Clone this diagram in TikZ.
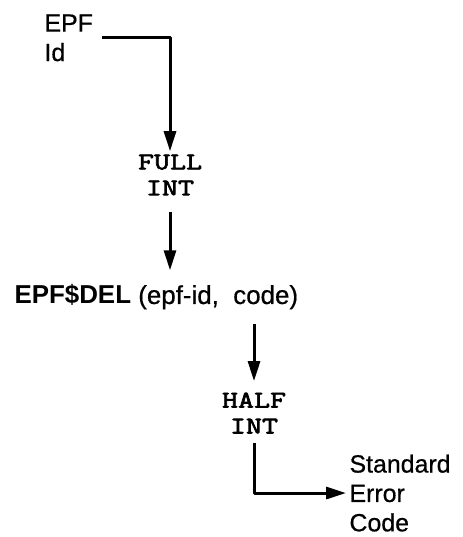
\documentclass[tikz,border=0pt]{standalone}
\usepackage{fontspec}
\setmainfont{Liberation Sans}[UprightFeatures={FakeBold=0.6}]
\newfontfamily\typefont{Latin Modern Mono}[FakeStretch=1.3,FakeBold=3]
\usetikzlibrary{arrows.meta}

\begin{document}
\begin{tikzpicture}[x=1bp,y=1bp,line join=bevel,
  >={Triangle[length=20bp,width=12bp]},
  sans/.style={inner sep=2bp,align=left,font=\fontsize{25}{29.5}\selectfont},
  mono/.style={inner sep=2bp,align=center,font=\typefont\fontsize{24}{26}\selectfont}]
  \pgfsetlinewidth{3bp}
  \useasboundingbox (0,0) rectangle (463,537);
%%
  % Node: EPF Id
  \node [sans,anchor=north west] (epfid) at (41,526) {EPF\\Id};
  % Node: FULL INT
  \node [mono] (full) at (170,362) {FULL\\INT};
  % Node: EPF$DEL
  \node [sans,font=\fontsize{26}{30}\selectfont,anchor=base west] (call) at (11,233) {\textbf{EPF\$DEL} (epf-id,\ \ code)};
  % Node: HALF INT
  \node [mono] (half) at (254,124) {HALF\\INT};
  % Node: Standard Error Code
  \node [sans,anchor=north west] (stderr) at (346,86) {Standard\\Error\\Code};
%%
  % Edge: EPF Id -> FULL INT
  \draw [->] ([xshift=6bp]epfid.east) -| (full.north);
  % Edge: FULL INT -> EPF$DEL
  \draw [->,shorten <=13bp,shorten >=11bp] (full.south) -- (full.south |- call.north);
  % Edge: EPF$DEL -> HALF INT
  \draw [->,shorten <=11bp,shorten >=8bp] (call.south -| half.north) -- (half.north);
  % Edge: HALF INT -> Standard Error Code
  \draw [->,shorten <=6bp] (half.south) |- (stderr.west);
%
\end{tikzpicture}
\end{document}
